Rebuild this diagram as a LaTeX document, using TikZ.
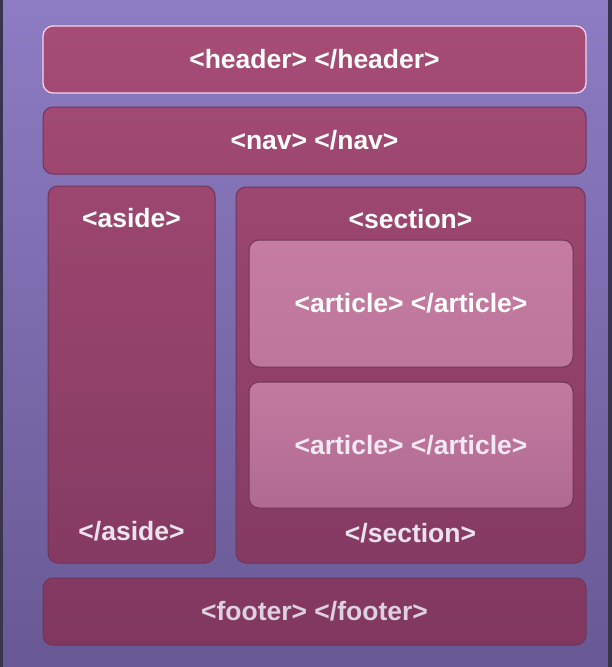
\documentclass[tikz,border=0pt]{standalone}
\usepackage{fontspec}
\setmainfont{Liberation Sans}
\begin{document}
\begin{tikzpicture}[x=1pt,y=-1pt,
  box/.style={rounded corners=10pt, inner sep=0pt, outer sep=0pt, draw=boxline, line width=1pt},
  lbl/.style={font=\bfseries\fontsize{26.5}{30}\selectfont, text=white, inner sep=0pt, anchor=center},
]
\definecolor{bgtop}{RGB}{142,124,196}
\definecolor{bgbot}{RGB}{104,89,148}
\definecolor{boxline}{RGB}{112,52,88}
\definecolor{hdrline}{RGB}{240,212,240}
\definecolor{edge}{RGB}{58,52,78}
\definecolor{ftxt}{RGB}{222,208,222}
\useasboundingbox (0,0) rectangle (612,667);
% background
\fill[top color=bgtop, bottom color=bgbot] (0,0) rectangle (612,667);
\fill[edge] (0,0) rectangle (3,667);
\fill[edge] (608,0) rectangle (612,667);
% boxes
\node[box, draw=hdrline, line width=1.3pt, minimum width=543pt, minimum height=67pt,
  top color={rgb,255:red,166;green,76;blue,117}, bottom color={rgb,255:red,162;green,74;blue,115}] (header) at (314.5,59.5) {};
\node[box, minimum width=543pt, minimum height=67pt,
  top color={rgb,255:red,161;green,73;blue,114}, bottom color={rgb,255:red,157;green,71;blue,112}] (nav) at (314.5,140.5) {};
\node[box, minimum width=167pt, minimum height=377pt,
  top color={rgb,255:red,156;green,71;blue,112}, bottom color={rgb,255:red,133;green,58;blue,99}] (aside) at (131.5,374.5) {};
\node[box, minimum width=349pt, minimum height=376pt,
  top color={rgb,255:red,156;green,71;blue,112}, bottom color={rgb,255:red,133;green,58;blue,99}] (section) at (410.5,375) {};
\node[box, minimum width=324pt, minimum height=127pt,
  top color={rgb,255:red,198;green,124;blue,162}, bottom color={rgb,255:red,190;green,118;blue,156}] (article1) at (411,303.5) {};
\node[box, minimum width=324pt, minimum height=126pt,
  top color={rgb,255:red,195;green,122;blue,160}, bottom color={rgb,255:red,176;green,106;blue,146}] (article2) at (411,445) {};
\node[box, minimum width=543pt, minimum height=67pt,
  top color={rgb,255:red,132;green,57;blue,98}, bottom color={rgb,255:red,128;green,55;blue,96}] (footer) at (314.5,611.5) {};
% labels
\node[lbl] (tHeader) at (header.center) {<header> </header>};
\node[lbl] (tNav) at (nav.center) {<nav> </nav>};
\node[lbl] (tAsideOpen) at (131.5,218) {<aside>};
\node[lbl, text={rgb,255:red,236;green,226;blue,236}] (tAsideClose) at (131.5,531) {</aside>};
\node[lbl] (tSectionOpen) at (410.5,219) {<section>};
\node[lbl, text={rgb,255:red,236;green,226;blue,236}] (tSectionClose) at (410.5,533) {</section>};
\node[lbl] (tArt1) at (article1.center) {<article> </article>};
\node[lbl, text={rgb,255:red,242;green,232;blue,242}] (tArt2) at (article2.center) {<article> </article>};
\node[lbl, text=ftxt] (tFooter) at (footer.center) {<footer> </footer>};
\end{tikzpicture}
\end{document}
